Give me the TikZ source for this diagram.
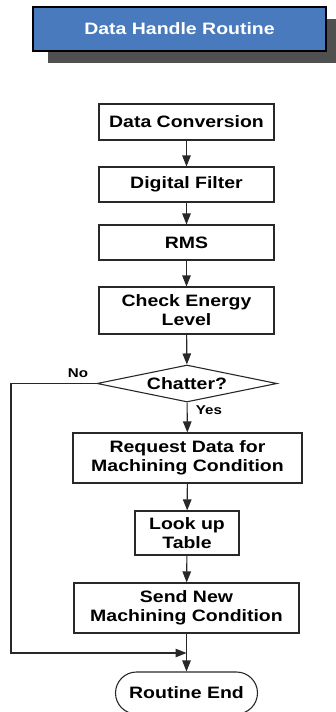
\documentclass[tikz,border=0pt]{standalone}
\usepackage{fontspec}
\setmainfont[FakeStretch=1.18]{Liberation Sans}
\usetikzlibrary{shapes,shapes.geometric,shadows,arrows.meta,positioning}
\definecolor{titleblue}{RGB}{74,122,190}
\definecolor{shadowgray}{RGB}{80,80,80}
\definecolor{linegray}{RGB}{40,40,40}
\newcommand{\boxfont}{\fontsize{16.5}{19}\selectfont\bfseries}
\newcommand{\lblfont}{\fontsize{12.8}{14}\selectfont\bfseries}

\begin{document}
\begin{tikzpicture}[x=1pt,y=-1pt,
    box/.style={draw=linegray, line width=1.1pt, fill=white, inner sep=0pt,
      align=center, font=\boxfont, minimum width=175pt, minimum height=36pt},
    flow/.style={draw=linegray, line width=1.1pt, -{Triangle[length=11pt,width=8.5pt]}}]
  \useasboundingbox (0,0) rectangle (336,712);

  % title with shadow
  \node[draw=black, line width=1.1pt, fill=titleblue, text=white, font=\boxfont,
        minimum width=293pt, minimum height=44pt, inner sep=0pt,
        drop shadow={shadow xshift=15pt, shadow yshift=-12pt, fill=shadowgray, opacity=1}]
        (title) at (179.5,29) {Data Handle Routine};

  % main column
  \node[box] (conv) at (186.5,122) {Data Conversion};
  \node[box, minimum height=35pt] (filter) at (186.5,184.5) {Digital Filter};
  \node[box, minimum height=35pt] (rms) at (186.5,242.5) {RMS};
  \node[box, minimum height=47pt] (energy) at (186.5,310.5) {Check Energy\\Level};
  \node[draw=linegray, line width=1.1pt, diamond, aspect=4.86, inner sep=0pt,
        minimum width=180pt, minimum height=37pt, font=\boxfont]
        (chatter) at (187,383.5) {Chatter?};
  \node[box, minimum width=229pt, minimum height=50pt] (request) at (187.5,458)
        {Request Data for\\Machining Condition};
  \node[box, minimum width=104pt, minimum height=44pt] (lookup) at (187,533) {Look up\\Table};
  \node[box, minimum width=225pt, minimum height=50pt] (send) at (186.5,608)
        {Send New\\Machining Condition};
  \node[draw=linegray, line width=1.1pt, rounded rectangle, inner sep=0pt,
        minimum width=142pt, minimum height=42pt, font=\boxfont]
        (finish) at (186.5,693) {Routine End};

  % labels
  \node[font=\lblfont] (nolbl) at (78,373) {No};
  \node[font=\lblfont] (yeslbl) at (209,410) {Yes};

  \coordinate (noleft) at (11,653);
  \coordinate (merge) at (186.5,653);

  % connectors
  \draw[flow] (conv) -- (filter);
  \draw[flow] (filter) -- (rms);
  \draw[flow] (rms) -- (energy);
  \draw[flow] (energy) -- (chatter);
  \draw[flow] (chatter) -- (request);
  \draw[flow] (request) -- (lookup);
  \draw[flow] (lookup) -- (send);
  \draw[flow] (send) -- (finish);
  \draw[flow] (chatter.west) -| (noleft) -- (merge);
\end{tikzpicture}
\end{document}
